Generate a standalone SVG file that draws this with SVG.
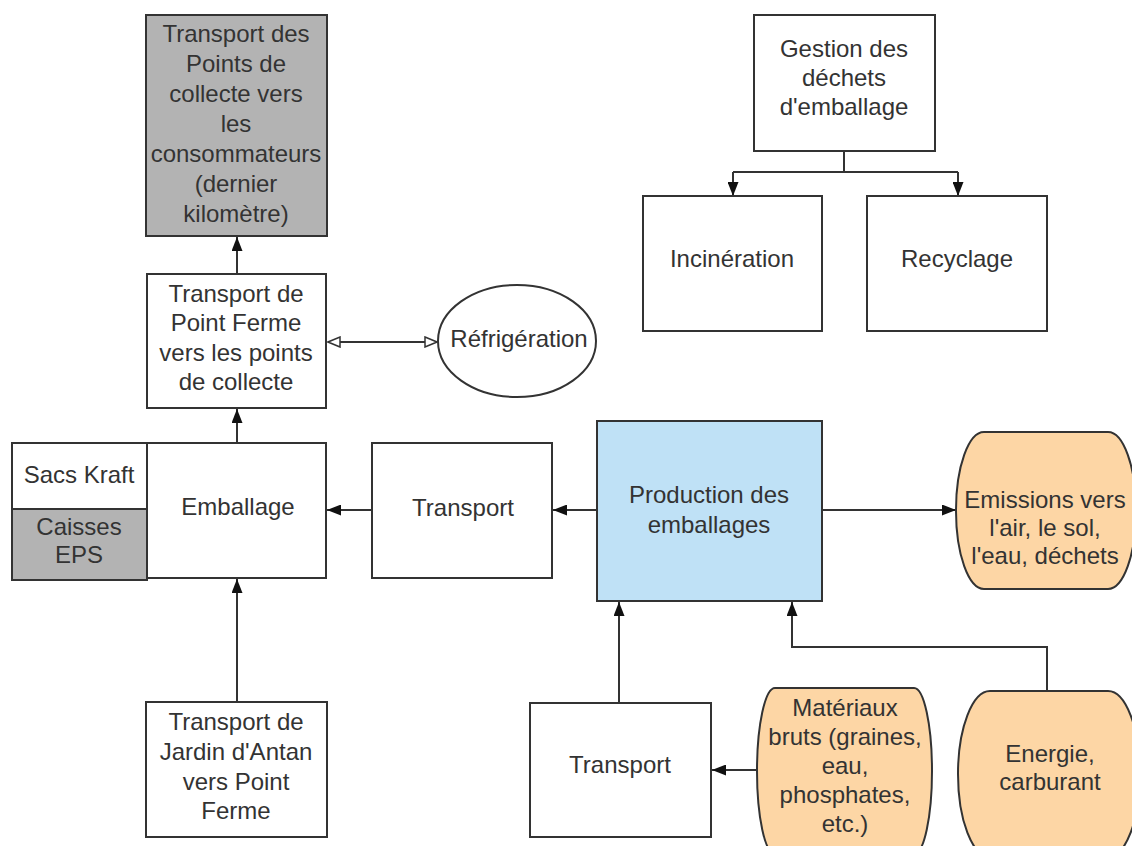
<svg xmlns="http://www.w3.org/2000/svg" width="1132" height="846" viewBox="0 0 1132 846">
  <style>
    .box { stroke: #333; stroke-width: 2; fill: #fff; }
    .grey { fill: #b3b3b3; }
    .blue { fill: #bfe1f6; }
    .peach { fill: #fdd6a5; }
    .lbl { font-family: "Liberation Sans", Arial, sans-serif; font-size: 24px; fill: #333; text-anchor: middle; }
    .wire { stroke: #333; stroke-width: 2; fill: none; }
  </style>
  <defs>
    <marker id="arr" viewBox="0 0 14 11" refX="14" refY="5.5" markerWidth="14" markerHeight="11" markerUnits="userSpaceOnUse" orient="auto">
      <path d="M0,0 L14,5.5 L0,11 z" fill="#111"/>
    </marker>
    <marker id="open" viewBox="0 0 14 12" refX="13" refY="6" markerWidth="14" markerHeight="12" markerUnits="userSpaceOnUse" orient="auto-start-reverse">
      <path d="M1,1 L13,6 L1,11 z" fill="#fff" stroke="#333" stroke-width="1.5"/>
    </marker>
  </defs>

  <rect width="1132" height="846" fill="#fff"/>

  <!-- connectors -->
  <g id="connectors">
    <line class="wire" x1="237" y1="274" x2="237" y2="237" marker-end="url(#arr)"/>
    <line class="wire" x1="237" y1="443" x2="237" y2="409" marker-end="url(#arr)"/>
    <line class="wire" x1="237" y1="702" x2="237" y2="579" marker-end="url(#arr)"/>
    <line class="wire" x1="372" y1="510" x2="327" y2="510" marker-end="url(#arr)"/>
    <line class="wire" x1="597" y1="510" x2="553" y2="510" marker-end="url(#arr)"/>
    <line class="wire" x1="822" y1="510" x2="956" y2="510" marker-end="url(#arr)"/>
    <line class="wire" x1="619" y1="703" x2="619" y2="602" marker-end="url(#arr)"/>
    <path class="wire" d="M1047,691 V647 H792 V602" marker-end="url(#arr)"/>
    <line class="wire" x1="757" y1="770" x2="712" y2="770" marker-end="url(#arr)"/>
    <line class="wire" x1="328" y1="342" x2="437" y2="342" marker-start="url(#open)" marker-end="url(#open)"/>
    <path class="wire" d="M844,151 V172 M733,172 H958"/>
    <line class="wire" x1="733" y1="172" x2="733" y2="196" marker-end="url(#arr)"/>
    <line class="wire" x1="958" y1="172" x2="958" y2="196" marker-end="url(#arr)"/>
  </g>

  <g id="dernier-km">
    <rect class="box grey" x="146" y="15" width="181" height="221"/>
    <text class="lbl" x="236" y="42">Transport des</text>
    <text class="lbl" x="236" y="72">Points de</text>
    <text class="lbl" x="236" y="102">collecte vers</text>
    <text class="lbl" x="236" y="132">les</text>
    <text class="lbl" x="236" y="162">consommateurs</text>
    <text class="lbl" x="236" y="192">(dernier</text>
    <text class="lbl" x="236" y="222">kilomètre)</text>
  </g>

  <g id="point-ferme">
    <rect class="box" x="147" y="274" width="179" height="134"/>
    <text class="lbl" x="236" y="302">Transport de</text>
    <text class="lbl" x="236" y="331">Point Ferme</text>
    <text class="lbl" x="236" y="361">vers les points</text>
    <text class="lbl" x="236" y="390">de collecte</text>
  </g>

  <g id="refrigeration">
    <ellipse class="box" cx="517" cy="341" rx="79" ry="56"/>
    <text class="lbl" x="519" y="347">Réfrigération</text>
  </g>

  <g id="sacs-kraft">
    <rect class="box" x="12" y="443" width="135" height="66"/>
    <text class="lbl" x="79" y="483">Sacs Kraft</text>
  </g>

  <g id="caisses-eps">
    <rect class="box grey" x="12" y="509" width="135" height="71"/>
    <text class="lbl" x="79" y="535">Caisses</text>
    <text class="lbl" x="79" y="563">EPS</text>
  </g>

  <g id="emballage">
    <rect class="box" x="147" y="443" width="179" height="135"/>
    <text class="lbl" x="238" y="515">Emballage</text>
  </g>

  <g id="transport-1">
    <rect class="box" x="372" y="443" width="180" height="135"/>
    <text class="lbl" x="463" y="516">Transport</text>
  </g>

  <g id="production">
    <rect class="box blue" x="597" y="421" width="225" height="180"/>
    <text class="lbl" x="709" y="503">Production des</text>
    <text class="lbl" x="709" y="533">emballages</text>
  </g>

  <g id="emissions">
    <rect class="box peach" x="956" y="432" width="180" height="157" rx="28" ry="78"/>
    <text class="lbl" x="1045" y="508">Emissions vers</text>
    <text class="lbl" x="1045" y="536">l'air, le sol,</text>
    <text class="lbl" x="1045" y="564">l'eau, déchets</text>
  </g>

  <g id="gestion">
    <rect class="box" x="754" y="15" width="181" height="136"/>
    <text class="lbl" x="844" y="57">Gestion des</text>
    <text class="lbl" x="844" y="86">déchets</text>
    <text class="lbl" x="844" y="115">d'emballage</text>
  </g>

  <g id="incineration">
    <rect class="box" x="643" y="196" width="179" height="135"/>
    <text class="lbl" x="732" y="267">Incinération</text>
  </g>

  <g id="recyclage">
    <rect class="box" x="867" y="196" width="180" height="135"/>
    <text class="lbl" x="957" y="267">Recyclage</text>
  </g>

  <g id="jardin">
    <rect class="box" x="146" y="702" width="181" height="135"/>
    <text class="lbl" x="236" y="730">Transport de</text>
    <text class="lbl" x="236" y="760">Jardin d'Antan</text>
    <text class="lbl" x="236" y="790">vers Point</text>
    <text class="lbl" x="236" y="819">Ferme</text>
  </g>

  <g id="transport-2">
    <rect class="box" x="530" y="703" width="181" height="134"/>
    <text class="lbl" x="620" y="773">Transport</text>
  </g>

  <g id="materiaux">
    <rect class="box peach" x="757" y="688" width="175" height="166" rx="18" ry="83"/>
    <text class="lbl" x="845" y="716">Matériaux</text>
    <text class="lbl" x="845" y="745">bruts (graines,</text>
    <text class="lbl" x="845" y="774">eau,</text>
    <text class="lbl" x="845" y="803">phosphates,</text>
    <text class="lbl" x="845" y="832">etc.)</text>
  </g>

  <g id="energie">
    <rect class="box peach" x="958" y="691" width="182" height="166" rx="32" ry="83"/>
    <text class="lbl" x="1050" y="762">Energie,</text>
    <text class="lbl" x="1050" y="790">carburant</text>
  </g>
</svg>
